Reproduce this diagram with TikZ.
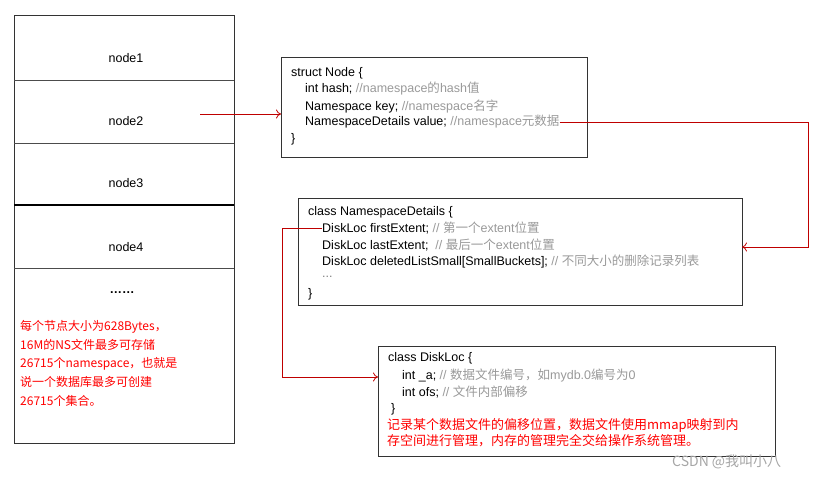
\documentclass[tikz,border=0pt]{standalone}
\usepackage{fontspec}
\usetikzlibrary{arrows.meta}
\setmainfont{Liberation Sans}
\newfontfamily\cj{Noto Sans CJK SC}
\begin{document}
\begin{tikzpicture}[x=1pt,y=-1pt,
  box/.style={draw=black!80,line width=0.9pt},
  ln/.style={anchor=west,inner sep=0pt,font=\fontsize{12.5}{14}\selectfont},
  redtxt/.style={text=red},
  conn/.style={draw=red!75!black,line width=0.8pt},
  arr/.style={conn,-{To[length=5pt,width=9pt]}}]
\useasboundingbox (0,0) rectangle (838,480);
% left column
\draw[box] (14,15) rectangle (234,443);
\foreach \y in {80,143,268} \draw[black!70,line width=0.6pt] (14,\y) -- (234,\y);
\draw[black,line width=1.2pt] (14,205) -- (234,205);
\node[ln,anchor=center] (n1) at (126,58) {node1};
\node[ln,anchor=center] (n2) at (126,121) {node2};
\node[ln,anchor=center] (n3) at (126,183) {node3};
\node[ln,anchor=center] (n4) at (126,247) {node4};
\node[ln,anchor=center,font=\fontsize{12.5}{14}\selectfont\bfseries] (dots) at (122,293) {……};
\node[ln,redtxt,anchor=north west,align=left,font=\fontsize{12}{18.7}\selectfont\cj] (note) at (20,320)
 {每个节点大小为628Bytes，\\16M的NS文件最多可存储\\26715个namespace，也就是\\说一个数据库最多可创建\\26715个集合。};
% struct box
\draw[box] (281,57) rectangle (587,157);
\node[ln] (s1) at (291,73) {struct Node \{};
\node[ln] (s2) at (305,89) {int hash; \textcolor{black!40}{//namespace{\cj 的}hash{\cj 值}}};
\node[ln] (s3) at (305,106) {Namespace key; \textcolor{black!40}{//namespace{\cj 名字}}};
\node[ln] (s4) at (305,122) {NamespaceDetails value; \textcolor{black!40}{//namespace{\cj 元数据}}};
\node[ln] (s5) at (291,139) {\}};
\coordinate (sbL) at (281,114);
\coordinate (n2e) at (200,114);
\draw[arr] (n2e) -- (sbL);
% namespace details box
\draw[box] (298,198) rectangle (742,305);
\node[ln] (d1) at (308,212) {class NamespaceDetails \{};
\node[ln] (d2) at (322,228) {DiskLoc firstExtent; \textcolor{black!40}{// {\cj 第一个}extent{\cj 位置}}};
\node[ln] (d3) at (322,245) {DiskLoc lastExtent;\ \ \textcolor{black!40}{// {\cj 最后一个}extent{\cj 位置}}};
\node[ln] (d4) at (322,261) {DiskLoc deletedListSmall[SmallBuckets]; \textcolor{black!40}{// {\cj 不同大小的删除记录列表}}};
\node[ln,text=black!50] (d5) at (322,277) {...};
\node[ln] (d6) at (308,294) {\}};
\coordinate (dR) at (742,247);
\draw[arr] (s4.east) -| (808,247) -- (dR);
% diskloc box
\draw[box] (378,346) rectangle (775,456);
\node[ln] (k1) at (388,358) {class DiskLoc \{};
\node[ln] (k2) at (402,375) {int \_a;\ \textcolor{black!40}{// {\cj 数据文件编号，如}mydb.0{\cj 编号为}0}};
\node[ln] (k3) at (402,392) {int ofs; \textcolor{black!40}{// {\cj 文件内部偏移}}};
\node[ln] (k4) at (391,409) {\}};
\node[ln,redtxt,anchor=north west,align=left,font=\fontsize{13}{16.5}\selectfont\cj] (k5) at (387,418)
 {记录某个数据文件的偏移位置，数据文件使用mmap映射到内\\存空间进行管理，内存的管理完全交给操作系统管理。};
\coordinate (kL) at (378,377);
\draw[arr] (d2.west) -- (282,228) |- (kL);
% watermark
\node[ln,text=black!35,font=\fontsize{14}{16}\selectfont\cj] (wm) at (672,462) {CSDN @我叫小八};
\end{tikzpicture}
\end{document}
